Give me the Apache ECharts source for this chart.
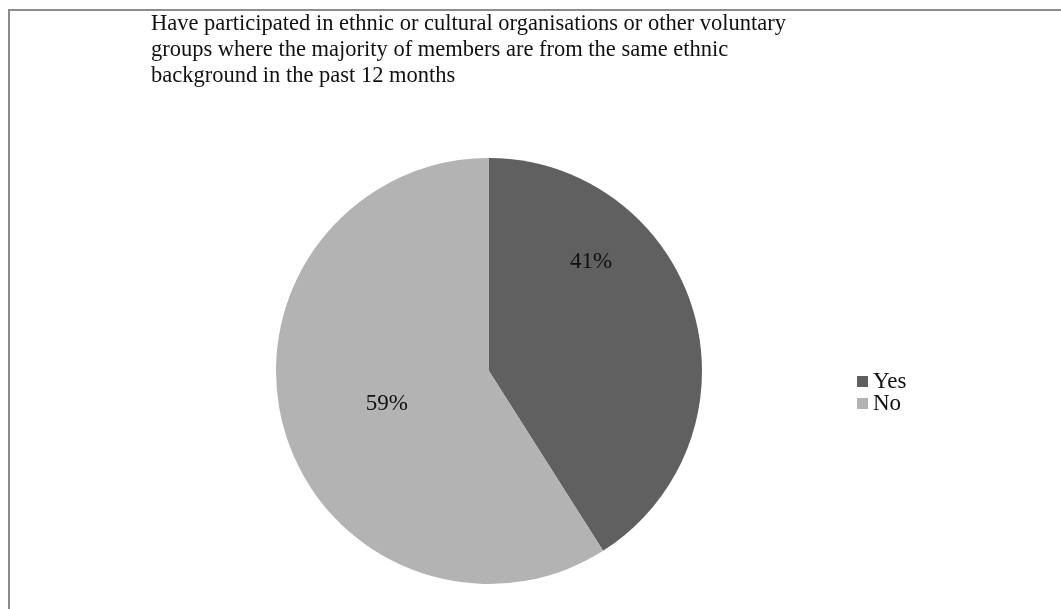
<!DOCTYPE html>
<html>
<head>
<meta charset="utf-8">
<script src="https://cdn.jsdelivr.net/npm/echarts@6/dist/echarts.min.js"></script>
<style>
  html, body { margin: 0; padding: 0; background: #fff; }
  #chart { width: 1061px; height: 609px; }
</style>
</head>
<body>
<div id="chart"></div>
<script>
// Survey answers and their shares (%)
const categories = ['Yes', 'No'];
const shares = [41, 59];
const titleLines = [
  'Have participated in ethnic or cultural organisations or other voluntary',
  'groups where the majority of members are from the same ethnic',
  'background in the past 12 months'
];

const sliceColors = ['#606060', '#b3b3b3'];
// Nudges that move each percentage label away from the slice's mid-radius point
const labelNudge = [[-3, -78], [3, 2]];
const serif = '"Liberation Serif", "DejaVu Serif", serif';

const chart = echarts.init(document.getElementById('chart'), null, { renderer: 'canvas' });

chart.setOption({
  backgroundColor: '#ffffff',
  animation: false,
  title: {
    text: titleLines.join('\n'),
    left: 151,
    top: 11,
    padding: 0,
    textStyle: {
      fontFamily: serif,
      fontSize: 22.5,
      fontWeight: 'normal',
      color: '#111',
      lineHeight: 26
    }
  },
  legend: {
    orient: 'vertical',
    left: 857,
    top: 370,
    padding: 0,
    itemWidth: 11,
    itemHeight: 11,
    itemGap: -1,
    icon: 'rect',
    data: categories,
    textStyle: { fontFamily: serif, fontSize: 23, color: '#111', lineHeight: 20 }
  },
  graphic: [{
    type: 'rect',
    shape: { x: 9, y: 10, width: 1200, height: 800 },
    style: { fill: 'none', stroke: '#8c8c8c', lineWidth: 2 },
    silent: true
  }],
  series: [{
    type: 'pie',
    center: [489, 371],
    radius: 213,
    startAngle: 90,
    clockwise: true,
    color: sliceColors,
    itemStyle: { borderWidth: 0 },
    label: {
      show: true,
      position: 'inside',
      formatter: '{c}%',
      fontFamily: serif,
      fontSize: 23,
      color: '#111'
    },
    labelLine: { show: false },
    labelLayout: function (p) {
      const n = labelNudge[p.dataIndex] || [0, 0];
      return { dx: n[0], dy: n[1] };
    },
    data: categories.map((name, i) => ({ name: name, value: shares[i] }))
  }]
});
</script>
</body>
</html>
